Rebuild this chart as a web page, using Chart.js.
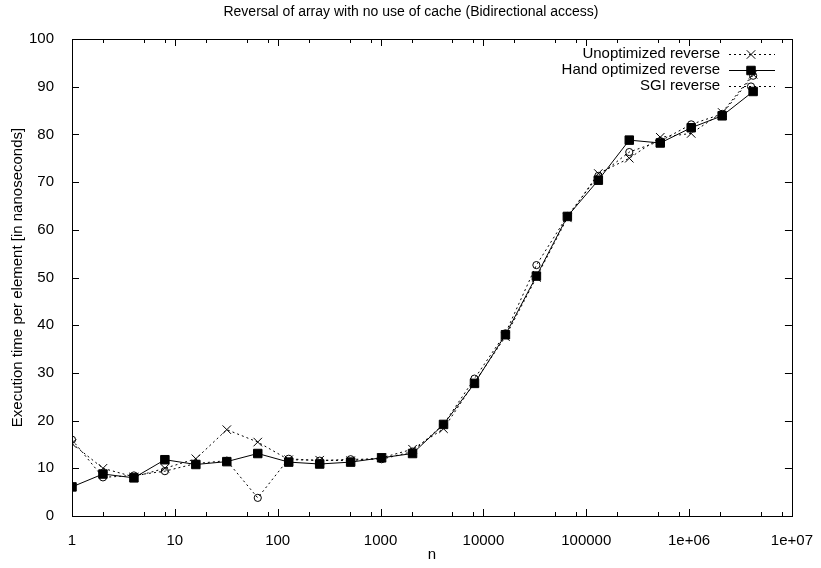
<!DOCTYPE html>
<html>
<head>
<meta charset="utf-8">
<title>Reversal of array with no use of cache</title>
<script src="https://cdn.jsdelivr.net/npm/chart.js@4.4.1/dist/chart.umd.min.js"></script>
<style>
  html, body { margin: 0; padding: 0; background: #fff; }
  #wrap { width: 821px; height: 568px; }
</style>
</head>
<body>
<div id="wrap"><canvas id="chart" width="821" height="568"></canvas></div>
<script>
// Array sizes (n) and time per element in ns for each reverse implementation
const sizes = [1, 2, 4, 8, 16, 32, 64, 128, 256, 512, 1024, 2048, 4096, 8192,
  16384, 32768, 65536, 131072, 262144, 524288, 1048576, 2097152, 4194304];
const unoptimized = [15.2, 10.0, 8.2, 10.0, 12.0, 18.1, 15.5, 11.8, 11.7, 11.6, 12.2, 14.0, 18.3, 28.0,
  37.6, 50.0, 62.5, 71.8, 75.0, 79.4, 80.2, 84.6, 92.6];
const handOptimized = [6.1, 8.8, 8.0, 11.8, 10.8, 11.4, 13.1, 11.3, 10.9, 11.3, 12.2, 13.1, 19.2, 27.8,
  38.0, 50.3, 62.8, 70.4, 78.8, 78.2, 81.4, 83.9, 89.0];
const sgi = [16.0, 8.1, 8.5, 9.4, 11.0, 11.6, 3.8, 12.0, 11.6, 11.9, 11.9, 13.5, 19.2, 28.8,
  38.3, 52.6, 62.9, 71.3, 76.3, 78.6, 82.1, 84.3, 92.3];

const xTickValues = [1, 10, 100, 1000, 10000, 100000, 1000000, 10000000];
const xTickLabels = ['1', '10', '100', '1000', '10000', '100000', '1e+06', '1e+07'];
const xMinorSteps = [2, 5, 8];
const yTickValues = [0, 10, 20, 30, 40, 50, 60, 70, 80, 90, 100];

const FONT = 'Liberation Sans, Arial, sans-serif';
const FONT_SIZE = 15;

function toPoints(values) {
  return sizes.map((n, i) => ({ x: n, y: values[i] }));
}

// frame, inward ticks on all four sides, title and key (gnuplot look)
const gnuplotFrame = {
  id: 'gnuplotFrame',
  afterDraw(chart) {
    const ctx = chart.ctx;
    const area = chart.chartArea;
    const xs = chart.scales.x;
    const ys = chart.scales.y;
    ctx.save();
    ctx.strokeStyle = '#000';
    ctx.lineWidth = 1;
    ctx.setLineDash([]);

    ctx.strokeRect(Math.round(area.left) + 0.5, Math.round(area.top) + 0.5,
      Math.round(area.right - area.left), Math.round(area.bottom - area.top));

    ctx.beginPath();
    const tick = (x, len) => {
      const px = Math.round(x) + 0.5;
      ctx.moveTo(px, area.bottom); ctx.lineTo(px, area.bottom - len);
      ctx.moveTo(px, area.top); ctx.lineTo(px, area.top + len);
    };
    xTickValues.forEach((v, i) => {
      tick(xs.getPixelForValue(v), 7);
      if (i < xTickValues.length - 1) {
        xMinorSteps.forEach(m => tick(xs.getPixelForValue(v * m), 4));
      }
    });
    yTickValues.forEach(v => {
      const py = Math.round(ys.getPixelForValue(v)) + 0.5;
      ctx.moveTo(area.left, py); ctx.lineTo(area.left + 7, py);
      ctx.moveTo(area.right, py); ctx.lineTo(area.right - 7, py);
    });
    ctx.stroke();

    // title
    ctx.fillStyle = '#000';
    ctx.font = '14px ' + FONT;
    ctx.textAlign = 'center';
    ctx.textBaseline = 'middle';
    ctx.fillText('Reversal of array with no use of cache (Bidirectional access)', 411, 12);

    // key, top right inside the plot
    ctx.font = FONT_SIZE + 'px ' + FONT;
    const textRight = 720, lineL = 729, lineR = 775, markX = 751;
    chart.data.datasets.forEach((ds, i) => {
      const y = 54 + i * 16;
      ctx.fillStyle = '#000';
      ctx.textAlign = 'right';
      ctx.fillText(ds.label, textRight, y);
      ctx.beginPath();
      ctx.setLineDash(ds.borderDash || []);
      ctx.moveTo(lineL, y + 0.5);
      ctx.lineTo(lineR, y + 0.5);
      ctx.stroke();
      ctx.setLineDash([]);
      ctx.fillStyle = ds.pointBackgroundColor;
      Chart.helpers.drawPoint(ctx, {
        pointStyle: ds.pointStyle, radius: ds.pointRadius, rotation: 0, borderWidth: 1
      }, markX, y + 0.5);
    });
    ctx.restore();
  }
};

const ctx = document.getElementById('chart').getContext('2d');
const chart = new Chart(ctx, {
  type: 'line',
  data: {
    datasets: [
      {
        label: 'Unoptimized reverse',
        data: toPoints(unoptimized),
        borderColor: '#000',
        borderWidth: 1,
        borderDash: [2, 3],
        pointStyle: 'crossRot',
        pointRadius: 6,
        pointBorderColor: '#000',
        pointBackgroundColor: '#000',
        pointBorderWidth: 1,
        fill: false,
        tension: 0,
        order: 2
      },
      {
        label: 'Hand optimized reverse',
        data: toPoints(handOptimized),
        borderColor: '#000',
        borderWidth: 1,
        pointStyle: 'rect',
        pointRadius: 6,
        pointBorderColor: '#000',
        pointBackgroundColor: '#000',
        pointBorderWidth: 1,
        fill: false,
        tension: 0,
        order: 1
      },
      {
        label: 'SGI reverse',
        data: toPoints(sgi),
        borderColor: '#000',
        borderWidth: 1,
        borderDash: [2, 3],
        pointStyle: 'circle',
        pointRadius: 3.6,
        pointBorderColor: '#000',
        pointBackgroundColor: 'rgba(0,0,0,0)',
        pointBorderWidth: 1,
        fill: false,
        tension: 0,
        order: 0
      }
    ]
  },
  options: {
    responsive: false,
    animation: false,
    layout: { padding: { top: 39, right: 26, left: 0, bottom: 0 } },
    plugins: {
      legend: { display: false },
      title: { display: false },
      tooltip: { enabled: false }
    },
    scales: {
      x: {
        type: 'logarithmic',
        min: 1,
        max: 10000000,
        grid: { display: false },
        border: { display: false },
        afterBuildTicks: scale => { scale.ticks = xTickValues.map(v => ({ value: v })); },
        afterFit: scale => { scale.height = 52; },
        ticks: {
          autoSkip: false,
          maxRotation: 0,
          padding: 8,
          color: '#000',
          font: { family: FONT, size: FONT_SIZE },
          callback: (value, index) => xTickLabels[index]
        },
        title: {
          display: true,
          text: 'n',
          color: '#000',
          font: { family: FONT, size: FONT_SIZE },
          padding: { top: 2 }
        }
      },
      y: {
        min: 0,
        max: 100,
        grid: { display: false },
        border: { display: false },
        afterBuildTicks: scale => { scale.ticks = yTickValues.map(v => ({ value: v })); },
        afterFit: scale => { scale.width = 72; },
        ticks: {
          padding: 10,
          color: '#000',
          font: { family: FONT, size: FONT_SIZE },
          callback: value => String(value)
        },
        title: {
          display: true,
          text: 'Execution time per element [in nanoseconds]',
          color: '#000',
          font: { family: FONT, size: FONT_SIZE },
          padding: { top: 9, bottom: 0 }
        }
      }
    }
  },
  plugins: [gnuplotFrame]
});
</script>
</body>
</html>
